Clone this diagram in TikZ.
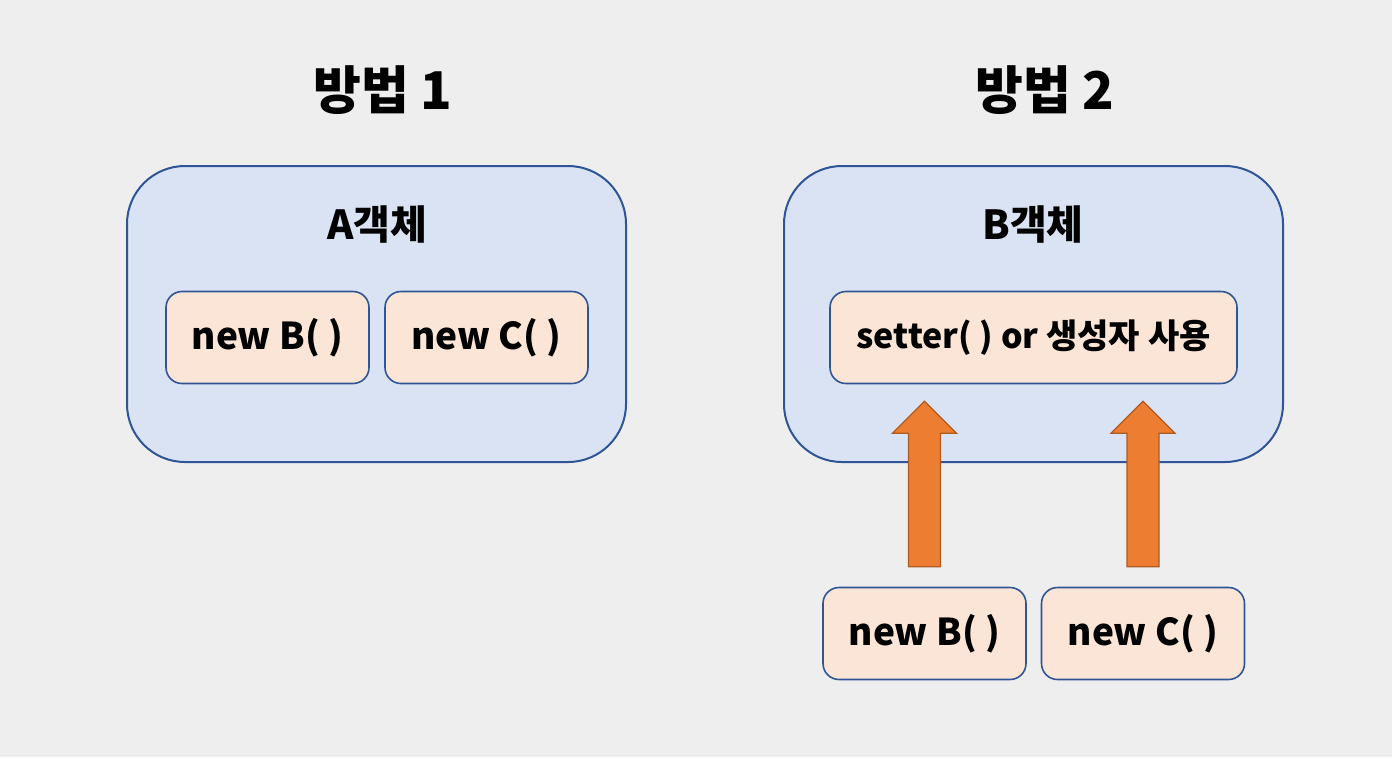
\documentclass[tikz,border=0pt]{standalone}
\usepackage{fontspec}
\setmainfont{Noto Sans CJK KR}
\usetikzlibrary{calc}

\definecolor{pagegray}{HTML}{EEEEEE}
\definecolor{outerfill}{HTML}{DAE3F3}
\definecolor{innerfill}{HTML}{FBE5D6}
\definecolor{boxline}{HTML}{2F5597}
\definecolor{arroworange}{HTML}{ED7D31}
\definecolor{arrowline}{HTML}{AE5A21}

% block arrow from the top of #1 up into #2
\newcommand{\pusharrow}[2]{%
  \draw[pushar] ($(#1.north)+(-16,-20)$) -- ($(#1.north |- #2.south)+(-16,49)$)
    -- ($(#1.north |- #2.south)+(-32,49)$) -- ($(#1.north |- #2.south)+(0,17)$)
    -- ($(#1.north |- #2.south)+(32,49)$) -- ($(#1.north |- #2.south)+(16,49)$)
    -- ($(#1.north)+(16,-20)$) -- cycle;}

\begin{document}
\begin{tikzpicture}[
    x=0.5pt, y=-0.5pt,
    outer/.style={draw=boxline, line width=1pt, fill=outerfill, rounded corners=29pt,
      minimum width=249.5pt, minimum height=148pt, inner sep=0pt},
    inner/.style={draw=boxline, line width=0.8pt, fill=innerfill, rounded corners=8pt,
      minimum width=101.5pt, minimum height=46pt, inner sep=0pt,
      font=\bfseries\fontsize{18.5}{22}\selectfont},
    title/.style={font=\bfseries\fontsize{26}{30}\selectfont},
    objname/.style={font=\bfseries\fontsize{20}{24}\selectfont},
    pushar/.style={draw=arrowline, line width=0.6pt, fill=arroworange, line join=miter}
  ]
  \fill[pagegray] (0,0) rectangle (1392,757);
  \useasboundingbox (0,0) rectangle (1392,757);

  % 방법 1
  \node[title] (t1) at (383,90) {방법 1};
  \node[outer] (objA) at (376.5,314) {};
  \node[objname] (nameA) at (377,225) {A객체};
  \node[inner] (a1) at (267.5,337.5) {new B( )};
  \node[inner] (a2) at (486.5,337.5) {new C( )};

  % 방법 2
  \node[title] (t2) at (1045,90) {방법 2};
  \node[outer] (objB) at (1033.5,314) {};
  \node[objname] (nameB) at (1033,225) {B객체};
  \node[inner, minimum width=203.5pt, font=\bfseries\fontsize{17}{20}\selectfont] (setter) at (1033.5,337.5) {setter( ) or 생성자 사용};
  \node[inner] (b1) at (924.5,633.5) {new B( )};
  \node[inner] (b2) at (1143,633.5) {new C( )};

  \pusharrow{b1}{setter}
  \pusharrow{b2}{setter}
\end{tikzpicture}
\end{document}
